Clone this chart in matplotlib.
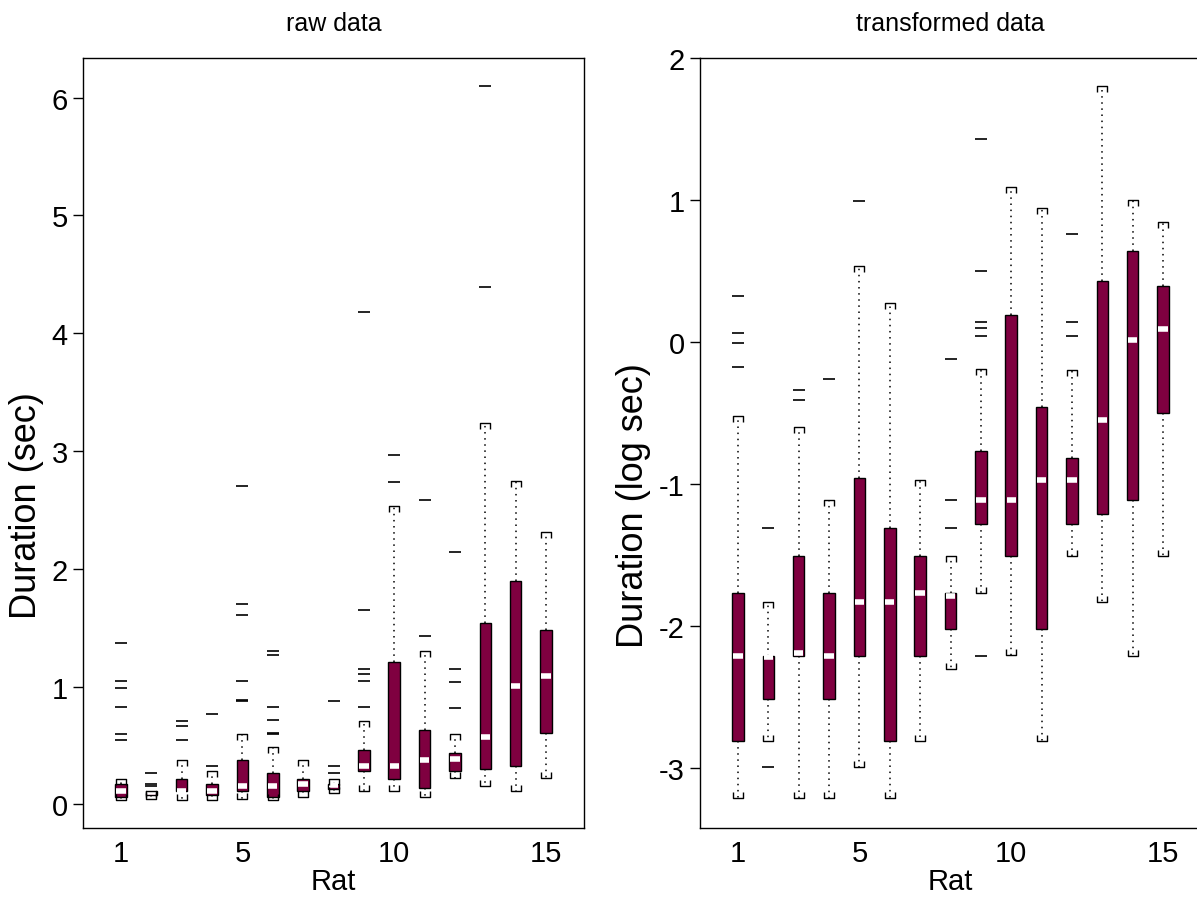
import matplotlib
matplotlib.use('Agg')
import matplotlib.pyplot as plt
import numpy as np
from matplotlib.path import Path

plt.rcParams['font.family'] = ['Liberation Sans', 'DejaVu Sans']
plt.rcParams['axes.unicode_minus'] = False

MAROON = '#7f0040'

rats = np.arange(1, 16)

# raw data (sec): whisker ends, quartiles, median, outliers
raw_lo = [0.04, 0.05, 0.04, 0.04, 0.05, 0.04, 0.06, 0.10, 0.113, 0.113, 0.062, 0.223, 0.16, 0.113, 0.223]
raw_q1 = [0.06, 0.08, 0.11, 0.08, 0.11, 0.06, 0.11, 0.133, 0.28, 0.22, 0.138, 0.28, 0.30, 0.325, 0.605]
raw_med = [0.11, 0.105, 0.112, 0.11, 0.16, 0.16, 0.17, 0.168, 0.33, 0.33, 0.378, 0.384, 0.576, 1.008, 1.093]
raw_q3 = [0.17, 0.11, 0.22, 0.17, 0.38, 0.27, 0.22, 0.17, 0.466, 1.21, 0.633, 0.44, 1.537, 1.895, 1.48]
raw_hi = [0.22, 0.115, 0.375, 0.28, 0.60, 0.49, 0.375, 0.22, 0.706, 2.53, 1.305, 0.60, 3.24, 2.746, 2.31]
raw_fliers = [[0.55, 0.60, 0.83, 0.99, 1.05, 1.37], [0.16, 0.17, 0.27], [0.55, 0.665, 0.71],
              [0.33, 0.77], [0.88, 0.89, 1.05, 1.61, 1.70, 2.70], [0.60, 0.61, 0.72, 0.83, 1.27, 1.30],
              [], [0.27, 0.33, 0.88], [0.83, 1.045, 1.11, 1.15, 1.65, 4.18], [2.74, 2.97],
              [1.43, 2.58], [0.82, 1.04, 1.15, 2.14], [4.39, 6.10], [], []]

# transformed data (log sec)
log_lo = [-3.21, -2.81, -3.21, -3.21, -2.99, -3.21, -2.81, -2.30, -1.77, -2.20, -2.81, -1.51, -1.83, -2.21, -1.51]
log_q1 = [-2.81, -2.51, -2.21, -2.51, -2.21, -2.81, -2.21, -2.02, -1.28, -1.51, -2.02, -1.28, -1.21, -1.11, -0.50]
log_med = [-2.21, -2.22, -2.19, -2.21, -1.83, -1.83, -1.77, -1.79, -1.11, -1.11, -0.97, -0.97, -0.55, 0.01, 0.09]
log_q3 = [-1.77, -2.21, -1.51, -1.77, -0.96, -1.31, -1.51, -1.77, -0.77, 0.19, -0.46, -0.82, 0.43, 0.64, 0.39]
log_hi = [-0.52, -1.83, -0.60, -1.11, 0.53, 0.27, -0.97, -1.51, -0.19, 1.09, 0.94, -0.20, 1.80, 1.00, 0.84]
log_fliers = [[-0.18, -0.01, 0.06, 0.32], [-2.99, -1.31], [-0.41, -0.34], [-0.26], [0.99], [], [],
              [-1.31, -1.11, -0.12], [-2.21, 0.04, 0.10, 0.14, 0.50, 1.43], [], [],
              [0.04, 0.14, 0.76], [], [], []]

# bracket-shaped whisker caps
cap_top = Path([(-0.5, -0.6), (-0.5, 0), (0.5, 0), (0.5, -0.6)],
               [Path.MOVETO, Path.LINETO, Path.LINETO, Path.LINETO])
cap_bot = Path([(-0.5, 0.6), (-0.5, 0), (0.5, 0), (0.5, 0.6)],
               [Path.MOVETO, Path.LINETO, Path.LINETO, Path.LINETO])


def draw_panel(ax, lo, q1, med, q3, hi, fliers, ylim, yticks, title, ylabel, label_x):
    stats = []
    for i in range(len(rats)):
        stats.append(dict(whislo=lo[i], q1=q1[i], med=med[i], q3=q3[i],
                          whishi=hi[i], fliers=fliers[i]))
    ax.bxp(stats, positions=rats, widths=0.38, patch_artist=True, showcaps=False,
           boxprops=dict(facecolor=MAROON, edgecolor='black', linewidth=1.0),
           whiskerprops=dict(color='black', linewidth=1.1, linestyle=(0, (1, 3))),
           medianprops=dict(visible=False),
           flierprops=dict(marker='_', markersize=8, markeredgewidth=1.2,
                           markeredgecolor='black'))
    ax.hlines(med, rats - 0.155, rats + 0.155, colors='white', linewidth=4.0, zorder=4)
    ax.plot(rats, hi, linestyle='none', marker=cap_top, markersize=8,
            markerfacecolor='none', markeredgecolor='black', markeredgewidth=1.0, zorder=4)
    ax.plot(rats, lo, linestyle='none', marker=cap_bot, markersize=8,
            markerfacecolor='none', markeredgecolor='black', markeredgewidth=1.0, zorder=4)

    ax.set_xlim(-0.25, 16.25)
    ax.set_ylim(*ylim)
    ax.set_xticks([1, 5, 10, 15])
    ax.set_xticklabels(['1', '5', '10', '15'])
    ax.set_yticks(yticks)
    ax.set_yticklabels([str(t) for t in yticks])
    ax.tick_params(axis='x', length=0, pad=8, labelsize=21)
    ax.tick_params(axis='y', length=7, width=1, pad=4, labelsize=21)
    for s in ax.spines.values():
        s.set_linewidth(1.0)
    ax.set_xlabel('Rat', fontsize=21, labelpad=0)
    ax.set_ylabel(ylabel, fontsize=26)
    ax.yaxis.set_label_coords(label_x, 0.42)
    ax.set_title(title, fontsize=18, pad=20)


fig = plt.figure(figsize=(11.97, 9.04), dpi=100)
ax1 = fig.add_axes([83 / 1197, 75 / 904, 501 / 1197, 770.5 / 904])
ax2 = fig.add_axes([700 / 1197, 75 / 904, 501 / 1197, 770.5 / 904])

draw_panel(ax1, raw_lo, raw_q1, raw_med, raw_q3, raw_hi, raw_fliers,
           (-0.2, 6.34), [0, 1, 2, 3, 4, 5, 6], 'raw data', 'Duration (sec)', -0.078)
draw_panel(ax2, log_lo, log_q1, log_med, log_q3, log_hi, log_fliers,
           (-3.42, 2.0), [-3, -2, -1, 0, 1, 2], 'transformed data', 'Duration (log sec)', -0.098)

fig.savefig('out.png', dpi=100)
plt.close(fig)
